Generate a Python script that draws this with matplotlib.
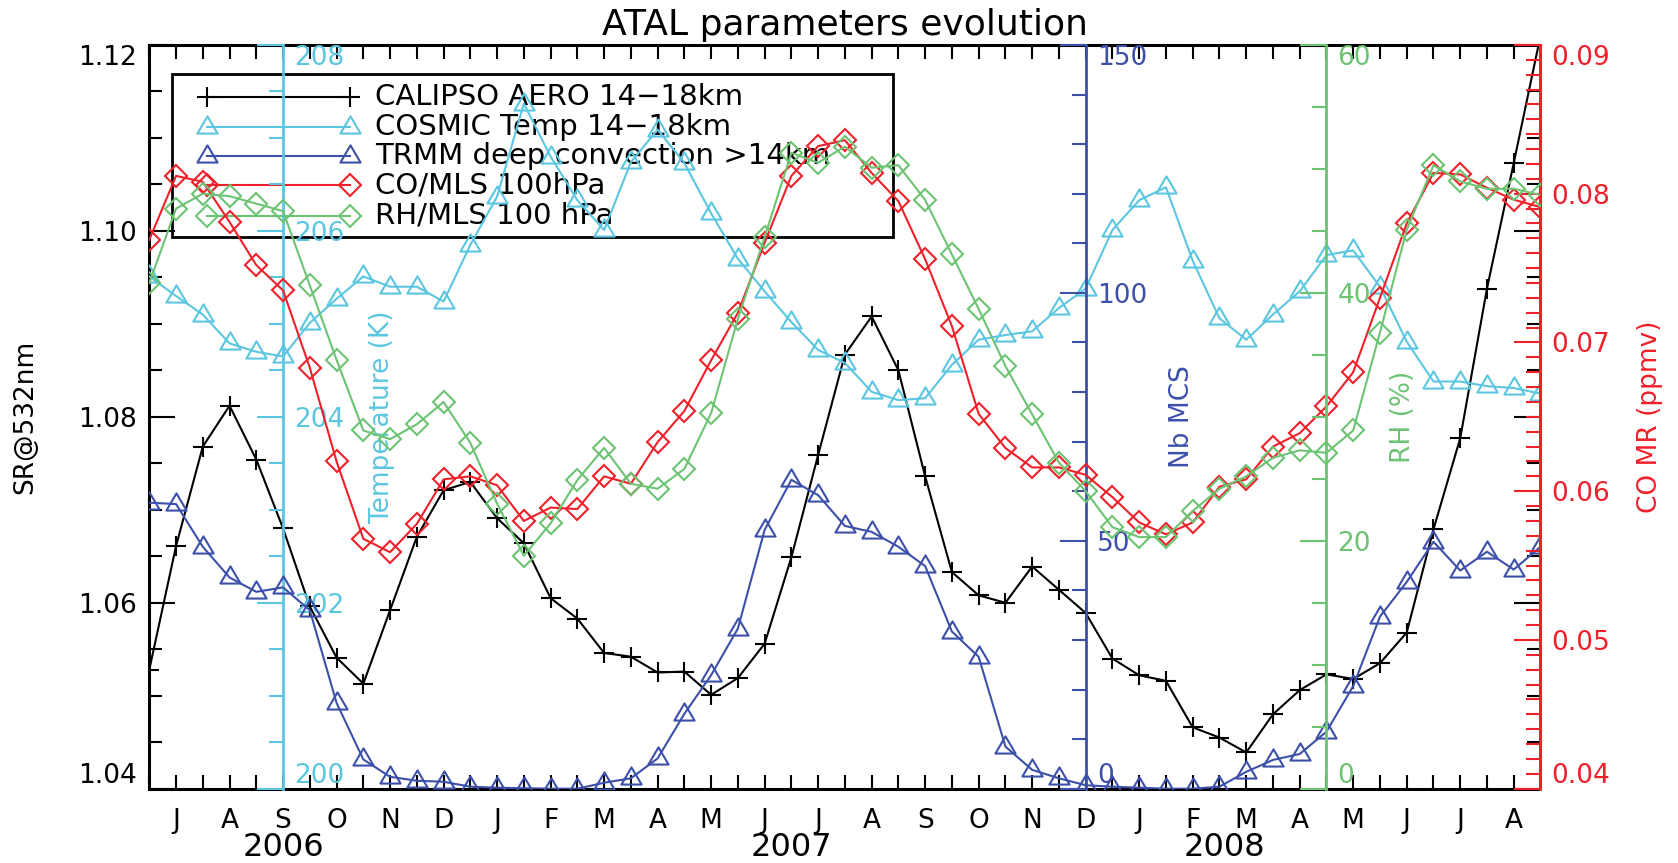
import numpy as np
import matplotlib
matplotlib.use('Agg')
import matplotlib.pyplot as plt
from matplotlib.path import Path
from matplotlib.patches import Rectangle
from matplotlib.lines import Line2D
from matplotlib.ticker import FixedLocator, MultipleLocator
import matplotlib.transforms as mtransforms

# half-month steps, from mid-June 2006 to mid-August 2008
months = ['J', 'A', 'S', 'O', 'N', 'D', 'J', 'F', 'M', 'A', 'M', 'J', 'J',
          'A', 'S', 'O', 'N', 'D', 'J', 'F', 'M', 'A', 'M', 'J', 'J', 'A']
years = ['2006', '2007', '2008']
year_pos = [5, 24, 40.2]

sr = [1.0528, 1.0661, 1.0768, 1.0812, 1.0754, 1.0680, 1.0596, 1.0541, 1.0513, 1.0592,
      1.0671, 1.0721, 1.0730, 1.0691, 1.0664, 1.0605, 1.0583, 1.0546, 1.0542, 1.0525,
      1.0526, 1.0501, 1.0519, 1.0556, 1.0649, 1.0759, 1.0867, 1.0908, 1.0850, 1.0736,
      1.0633, 1.0608, 1.0600, 1.0639, 1.0614, 1.0589, 1.0540, 1.0522, 1.0516, 1.0466,
      1.0455, 1.0439, 1.0480, 1.0506, 1.0523, 1.0518, 1.0535, 1.0568, 1.0679, 1.0777,
      1.0938, 1.1073, 1.1210]

temp = [205.51, 205.30, 205.10, 204.79, 204.70, 204.65, 205.01, 205.27, 205.51, 205.40,
        205.40, 205.24, 205.85, 206.37, 207.37, 206.80, 206.33, 206.01, 206.74, 207.09,
        206.73, 206.19, 205.70, 205.35, 205.02, 204.72, 204.58, 204.27, 204.18, 204.20,
        204.56, 204.83, 204.88, 204.92, 205.17, 205.38, 206.01, 206.33, 206.47, 205.68,
        205.06, 204.83, 205.10, 205.35, 205.74, 205.79, 205.40, 204.81, 204.38, 204.38,
        204.33, 204.31, 204.25]

mcs = [57.7, 57.4, 48.8, 42.6, 39.7, 40.6, 36.0, 17.3, 5.9, 2.4,
       1.6, 1.4, 0.4, 0.2, 0.1, 0.0, 0.0, 1.2, 2.1, 6.1,
       15.1, 22.9, 32.3, 52.2, 62.3, 59.2, 53.0, 51.8, 48.8, 44.9,
       31.7, 26.6, 8.5, 3.8, 2.1, 0.7, 0.4, 0.2, 0.0, 0.0,
       0.4, 3.4, 5.8, 7.0, 11.5, 20.7, 34.7, 41.7, 49.8, 44.0,
       47.8, 44.2, 48.8]

co = [0.0769, 0.0812, 0.0808, 0.0781, 0.0752, 0.0735, 0.0683, 0.0620, 0.0568, 0.0559,
      0.0578, 0.0608, 0.0610, 0.0604, 0.0580, 0.0589, 0.0588, 0.0610, 0.0605, 0.0633,
      0.0654, 0.0688, 0.0720, 0.0767, 0.0812, 0.0832, 0.0836, 0.0814, 0.0795, 0.0756,
      0.0711, 0.0652, 0.0629, 0.0616, 0.0616, 0.0611, 0.0596, 0.0579, 0.0571, 0.0579,
      0.0603, 0.0608, 0.0630, 0.0639, 0.0657, 0.0680, 0.0730, 0.0780, 0.0814, 0.0813,
      0.0804, 0.0796, 0.0791]

rh = [40.8, 46.8, 48.0, 47.8, 47.2, 46.6, 40.6, 34.6, 28.9, 28.2,
      29.4, 31.2, 27.9, 23.0, 18.8, 21.4, 24.9, 27.5, 24.6, 24.2,
      25.8, 30.3, 37.9, 44.5, 51.3, 50.5, 51.8, 50.1, 50.3, 47.5,
      43.1, 38.7, 34.1, 30.2, 26.3, 24.0, 21.1, 20.3, 20.3, 22.4,
      24.2, 25.2, 26.7, 27.3, 27.1, 28.9, 36.8, 45.1, 50.3, 49.0,
      48.4, 48.4, 47.9]

labels = ['CALIPSO AERO 14\u221218km', 'COSMIC Temp 14\u221218km',
          'TRMM deep convection >14km', 'CO/MLS 100hPa', 'RH/MLS 100 hPa']

BLACK = '#000000'
CYAN = '#5CC6E0'
BLUE = '#3C50AA'
RED = '#F0202A'
GREEN = '#6CC473'

plt.rcParams['font.family'] = 'DejaVu Sans'

TICKFS = 19

tri = Path([(-1, -0.6), (1, -0.6), (0, 1.1), (-1, -0.6)],
           [Path.MOVETO, Path.LINETO, Path.LINETO, Path.CLOSEPOLY])

x = np.arange(len(sr))

fig = plt.figure(figsize=(16.78, 8.63), dpi=100)
ax = fig.add_axes([0.08897, 0.0861, 0.82908, 0.86176])

styles = [dict(color=BLACK, marker='+', ms=14),
          dict(color=CYAN, marker=tri, ms=16),
          dict(color=BLUE, marker=tri, ms=16),
          dict(color=RED, marker='D', ms=11.5),
          dict(color=GREEN, marker='D', ms=11.5)]


def draw(a, y, st):
    a.plot(x, y, color=st['color'], lw=1.5, marker=st['marker'], ms=st['ms'],
           mew=1.5, mfc='none', mec=st['color'])


draw(ax, sr, styles[0])
ax.set_xlim(0, 52)
ax.set_ylim(1.04, 1.12)


def side_axis(pos, color, lim, majors, minor, fmt):
    t = ax.twinx()
    t.set_ylim(*lim)
    for s in ['left', 'top', 'bottom']:
        t.spines[s].set_visible(False)
    if pos is not None:
        t.spines['right'].set_position(('data', pos))
    t.spines['right'].set_color(color)
    t.spines['right'].set_linewidth(2)
    t.yaxis.set_major_locator(FixedLocator(majors))
    t.yaxis.set_minor_locator(MultipleLocator(minor))
    t.set_yticklabels([fmt % v for v in majors])
    t.tick_params(axis='y', which='major', direction='in', length=19, width=1.5,
                  color=color, labelcolor=color, labelsize=TICKFS, pad=8)
    t.tick_params(axis='y', which='minor', direction='in', length=10, width=1.5,
                  color=color)
    tl = t.get_yticklabels()
    tl[0].set_va('bottom')
    tl[-1].set_va('top')
    return t


ax_t = side_axis(5, CYAN, (200, 208), [200, 202, 204, 206, 208], 0.5, '%d')
draw(ax_t, temp, styles[1])
ax_m = side_axis(35, BLUE, (0, 150), [0, 50, 100, 150], 10, '%d')
draw(ax_m, mcs, styles[2])
ax_c = side_axis(None, RED, (0.04, 0.09), [0.04, 0.05, 0.06, 0.07, 0.08, 0.09],
                 0.001, '%.2f')
ax_c.spines['right'].set_linewidth(2.2)
draw(ax_c, co, styles[3])
ax_r = side_axis(44, GREEN, (0, 60), [0, 20, 40, 60], 5, '%d')
draw(ax_r, rh, styles[4])

# main axis ticks (after twinx, which resets them)
for s in ['left', 'top', 'bottom']:
    ax.spines[s].set_linewidth(2.2)
ax.spines['right'].set_visible(False)
ax.yaxis.set_major_locator(FixedLocator([1.04, 1.06, 1.08, 1.10, 1.12]))
ax.yaxis.set_minor_locator(MultipleLocator(0.005))
ax.set_yticklabels(['1.04', '1.06', '1.08', '1.10', '1.12'])
ax.tick_params(axis='y', which='major', direction='in', length=19, width=1.5,
               left=True, right=True, labelsize=TICKFS, pad=9)
ax.tick_params(axis='y', which='minor', direction='in', length=9.5, width=1.5,
               left=True, right=True)
yl = ax.get_yticklabels()
yl[0].set_va('bottom')
yl[-1].set_va('top')

ax.set_xticks(x)
ax.set_xticklabels(['' if k % 2 == 0 else months[(k - 1) // 2] for k in x])
ax.tick_params(axis='x', which='major', direction='in', length=10, width=1.5,
               top=True, bottom=True, labelsize=TICKFS, pad=14)

trans = mtransforms.blended_transform_factory(ax.transData, ax.transAxes)
for yr, p in zip(years, year_pos):
    ax.text(p, -0.079, yr, transform=trans, ha='center', va='center', fontsize=23)

ax.set_title('ATAL parameters evolution', fontsize=26, pad=7)

ax.text(-0.0893, 0.5, 'SR@532nm', transform=ax.transAxes, rotation=90,
        ha='center', va='center', fontsize=19, color=BLACK)
ax.text(0.1673, 0.5, 'Temperature (K)', transform=ax.transAxes, rotation=90,
        ha='center', va='center', fontsize=19, color=CYAN)
ax.text(0.742, 0.5, 'Nb MCS', transform=ax.transAxes, rotation=90,
        ha='center', va='center', fontsize=19, color=BLUE)
ax.text(0.9012, 0.5, 'RH (%)', transform=ax.transAxes, rotation=90,
        ha='center', va='center', fontsize=19, color=GREEN)
ax.text(1.0787, 0.5, 'CO MR (ppmv)', transform=ax.transAxes, rotation=90,
        ha='center', va='center', fontsize=19, color=RED)

# legend box
ax.add_patch(Rectangle((0.0163, 0.7414), 0.5183, 0.2196, transform=ax.transAxes,
                       fill=False, lw=2, ec=BLACK, clip_on=False, zorder=5))
rows = [0.9305, 0.8901, 0.8508, 0.8111, 0.7701]
for lab, st, ry in zip(labels, styles, rows):
    ax.add_line(Line2D([0.0412, 0.1443], [ry, ry], transform=ax.transAxes,
                       color=st['color'], lw=1.5, marker=st['marker'], ms=st['ms'],
                       mew=1.5, mfc='none', mec=st['color'], clip_on=False, zorder=5))
    ax.text(0.1624, ry, lab, transform=ax.transAxes, ha='left', va='center',
            fontsize=21, color=BLACK, zorder=5)

fig.savefig('out.png', dpi=100)
